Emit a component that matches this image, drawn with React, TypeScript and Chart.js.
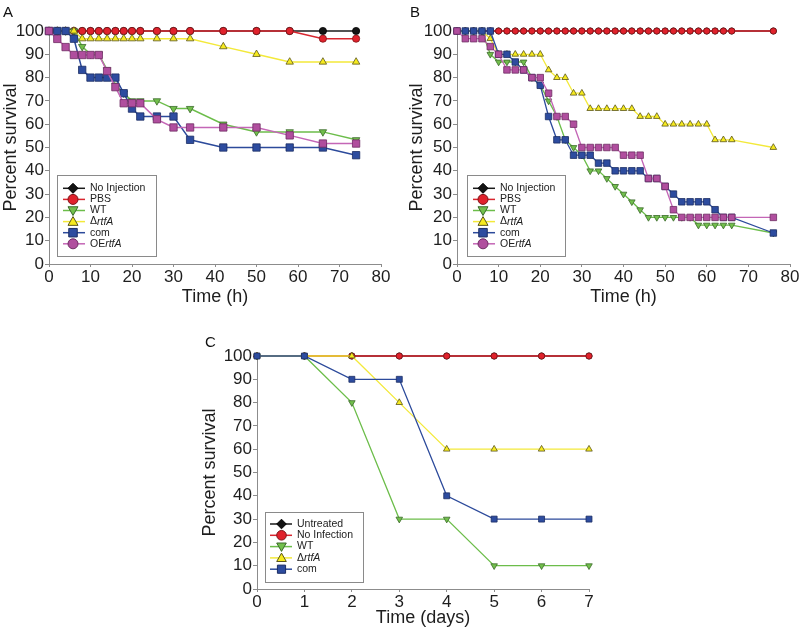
import React, { useEffect, useRef } from 'react';
import { Chart, registerables } from 'chart.js';
Chart.register(...registerables);

const FONT = "'Liberation Sans', Arial, Helvetica, sans-serif";

// ---------------- DATA ----------------
// Panel A (hours)
const timeA = [0, 2, 4, 6, 8, 10, 12, 14, 16, 18, 20, 22, 26, 30, 34, 42, 50, 58, 66, 74];
const noInjA = [100, 100, 100, 100, 100, 100, 100, 100, 100, 100, 100, 100, 100, 100, 100, 100, 100, 100, 100, 100];
const pbsA = [100, 100, 100, 100, 100, 100, 100, 100, 100, 100, 100, 100, 100, 100, 100, 100, 100, 100, 96.7, 96.7];
const wtA = [100, 100, 100, 100, 93.3, 90, 90, 83.3, 76.7, 73.3, 70, 70, 70, 66.7, 66.7, 60, 56.7, 56.7, 56.7, 53.3];
const deltaA = [100, 100, 100, 100, 96.7, 96.7, 96.7, 96.7, 96.7, 96.7, 96.7, 96.7, 96.7, 96.7, 96.7, 93.3, 90, 86.7, 86.7, 86.7];
const comA = [100, 100, 100, 96.7, 83.3, 80, 80, 80, 80, 73.3, 66.7, 63.3, 63.3, 63.3, 53.3, 50, 50, 50, 50, 46.7];
const oeA = [100, 96.6, 93.1, 89.7, 89.7, 89.7, 89.7, 82.8, 75.9, 69.0, 69.0, 69.0, 62.1, 58.6, 58.6, 58.6, 58.6, 55.2, 51.7, 51.7];

// Panel B (hours)
const timeB = [0, 2, 4, 6, 8, 10, 12, 14, 16, 18, 20, 22, 24, 26, 28, 30, 32, 34, 36, 38, 40, 42, 44, 46, 48, 50, 52, 54, 56, 58, 60, 62, 64, 66, 76];
const noInjB = [100, 100, 100, 100, 100, 100, 100, 100, 100, 100, 100, 100, 100, 100, 100, 100, 100, 100, 100, 100, 100, 100, 100, 100, 100, 100, 100, 100, 100, 100, 100, 100, 100, 100, 100];
const pbsB = [100, 100, 100, 100, 100, 100, 100, 100, 100, 100, 100, 100, 100, 100, 100, 100, 100, 100, 100, 100, 100, 100, 100, 100, 100, 100, 100, 100, 100, 100, 100, 100, 100, 100, 100];
const wtB = [100, 100, 100, 100, 90, 86.7, 86.7, 86.7, 86.7, 80, 76.7, 70, 63.3, 53.3, 50, 46.7, 40, 40, 36.7, 33.3, 30, 26.7, 23.3, 20, 20, 20, 20, 20, 20, 16.7, 16.7, 16.7, 16.7, 16.7, 13.3];
const deltaB = [100, 100, 100, 100, 96.7, 90, 90, 90, 90, 90, 90, 83.3, 80, 80, 73.3, 73.3, 66.7, 66.7, 66.7, 66.7, 66.7, 66.7, 63.3, 63.3, 63.3, 60, 60, 60, 60, 60, 60, 53.3, 53.3, 53.3, 50];
const comB = [100, 100, 100, 100, 100, 90, 90, 86.7, 83.3, 80, 76.7, 63.3, 53.3, 53.3, 46.7, 46.7, 46.7, 43.3, 43.3, 40, 40, 40, 40, 36.7, 36.7, 33.3, 30, 26.7, 26.7, 26.7, 26.7, 23.3, 20, 20, 13.3];
const oeB = [100, 96.7, 96.7, 96.7, 93.3, 90, 83.3, 83.3, 83.3, 80, 80, 73.3, 63.3, 63.3, 60, 50, 50, 50, 50, 50, 46.7, 46.7, 46.7, 36.7, 36.7, 33.3, 23.3, 20, 20, 20, 20, 20, 20, 20, 20];

// Panel C (days)
const timeC = [0, 1, 2, 3, 4, 5, 6, 7];
const untreatedC = [100, 100, 100, 100, 100, 100, 100, 100];
const noInfC = [100, 100, 100, 100, 100, 100, 100, 100];
const wtC = [100, 100, 80, 30, 30, 10, 10, 10];
const deltaC = [100, 100, 100, 80, 60, 60, 60, 60];
const comC = [100, 100, 90, 90, 40, 30, 30, 30];

// Labels (text between * is italic)
const namesAB = ['No Injection', 'PBS', 'WT', 'Δ*rtfA*', 'com', 'OE*rtfA*'];
const namesC = ['Untreated', 'No Infection', 'WT', 'Δ*rtfA*', 'com'];
const yTitle = 'Percent survival';
const xTitleAB = 'Time (h)';
const xTitleC = 'Time (days)';

// ---------------- STYLES ----------------
type Col = { line: string; fill: string; border: string };
const BLACK: Col = { line: '#1a1a1a', fill: '#141414', border: '#000000' };
const RED: Col = { line: '#d8262f', fill: '#e0222c', border: '#7d1418' };
const GREEN: Col = { line: '#6cbd4a', fill: '#72bf4c', border: '#3b6a2b' };
const YELLOW: Col = { line: '#f3e93a', fill: '#f6ea1e', border: '#5b561b' };
const BLUE: Col = { line: '#2c4a9b', fill: '#2d4c9f', border: '#1c2d63' };
const MAG: Col = { line: '#c466b6', fill: '#b04e9e', border: '#6e2c63' };

type Shape = 'circle' | 'rect' | 'triangle' | 'triangleDown' | 'diamond';
type Ser = { name: string; values: number[]; col: Col; style: Shape; legendStyle?: Shape };

type Spec = {
  left: number; top: number; width: number; height: number;
  area: { left: number; top: number; right: number; bottom: number };
  xMax: number; xStep: number; xTitle: string;
  xTitlePad: number; yTitlePad: number;
  letter: string; letterX: number; letterY: number;
  times: number[]; series: Ser[];
  sizes: Record<Shape, number>;
  lineWidth: number;
  legend: { dx: number; dyBottom: number; w: number; h: number; row0: number; rowStep: number; line0: number; line1: number; markX: number; markR: number; textX: number; font: number };
};

function drawMarker(ctx: CanvasRenderingContext2D, style: Shape, x: number, y: number, r: number, fill: string, stroke: string) {
  ctx.save();
  ctx.beginPath();
  if (style === 'circle') {
    ctx.arc(x, y, r, 0, Math.PI * 2);
  } else if (style === 'rect') {
    const s = r * 0.85;
    ctx.rect(x - s, y - s, 2 * s, 2 * s);
  } else if (style === 'diamond') {
    ctx.moveTo(x, y - r); ctx.lineTo(x + r, y); ctx.lineTo(x, y + r); ctx.lineTo(x - r, y); ctx.closePath();
  } else if (style === 'triangle') {
    ctx.moveTo(x, y - r); ctx.lineTo(x + r * 1.0, y + r * 0.75); ctx.lineTo(x - r * 1.0, y + r * 0.75); ctx.closePath();
  } else {
    ctx.moveTo(x, y + r); ctx.lineTo(x + r * 1.0, y - r * 0.75); ctx.lineTo(x - r * 1.0, y - r * 0.75); ctx.closePath();
  }
  ctx.fillStyle = fill;
  ctx.fill();
  ctx.lineWidth = 1;
  ctx.strokeStyle = stroke;
  ctx.stroke();
  ctx.restore();
}

function chartStyle(s: Shape): string {
  if (s === 'circle') return 'circle';
  if (s === 'rect') return 'rect';
  if (s === 'diamond') return 'rectRot';
  return 'triangle';
}

function buildChart(canvas: HTMLCanvasElement, sp: Spec) {
  const A = sp.area;
  const datasets = sp.series.map((s) => ({
    label: s.name,
    data: sp.times.map((t, i) => ({ x: t, y: s.values[i] })),
    borderColor: s.col.line,
    backgroundColor: s.col.fill,
    borderWidth: sp.lineWidth,
    pointStyle: chartStyle(s.style),
    pointRotation: s.style === 'triangleDown' ? 180 : 0,
    pointRadius: sp.sizes[s.style],
    pointHoverRadius: sp.sizes[s.style],
    pointBackgroundColor: s.col.fill,
    pointBorderColor: s.col.border,
    pointBorderWidth: 0.8,
    tension: 0,
    fill: false,
    clip: false as any,
  }));
  // Chart.js draws dataset 0 on top: reverse so the last listed series is on top
  datasets.reverse();

  const overlay = {
    id: 'overlay' + sp.letter,
    afterDraw(chart: any) {
      const ctx: CanvasRenderingContext2D = chart.ctx;
      const ca = chart.chartArea;
      ctx.save();
      ctx.font = `15px ${FONT}`;
      ctx.fillStyle = '#111';
      ctx.textAlign = 'left';
      ctx.textBaseline = 'alphabetic';
      ctx.fillText(sp.letter, sp.letterX, sp.letterY);

      const L = sp.legend;
      const bx = Math.round(ca.left + L.dx);
      const by = Math.round(ca.bottom - L.dyBottom - L.h);
      ctx.fillStyle = '#ffffff';
      ctx.fillRect(bx, by, L.w, L.h);
      ctx.strokeStyle = '#8a8a8a';
      ctx.lineWidth = 1;
      ctx.strokeRect(bx + 0.5, by + 0.5, L.w, L.h);
      sp.series.forEach((s, i) => {
        const y = by + L.row0 + i * L.rowStep;
        ctx.beginPath();
        ctx.moveTo(bx + L.line0, y);
        ctx.lineTo(bx + L.line1, y);
        ctx.strokeStyle = s.col.line;
        ctx.lineWidth = 1.5;
        ctx.stroke();
        drawMarker(ctx, s.legendStyle ?? s.style, bx + L.markX, y, L.markR, s.col.fill, s.col.border);
        let x = bx + L.textX;
        ctx.textBaseline = 'middle';
        ctx.fillStyle = '#222';
        s.name.split('*').forEach((part, k) => {
          if (!part) return;
          ctx.font = `${k % 2 === 1 ? 'italic ' : ''}${L.font}px ${FONT}`;
          ctx.fillText(part, x, y);
          x += ctx.measureText(part).width;
        });
      });
      ctx.restore();
    },
  };

  const axisColor = '#8c8c8c';
  return new Chart(canvas, {
    type: 'line',
    data: { datasets: datasets as any },
    options: {
      responsive: false,
      animation: false,
      events: [],
      layout: { padding: { left: 0, top: A.top, right: sp.width - A.right, bottom: 0 } },
      plugins: { legend: { display: false }, tooltip: { enabled: false } },
      scales: {
        x: {
          type: 'linear',
          min: 0,
          max: sp.xMax,
          afterFit: (s: any) => { s.height = sp.height - A.bottom; },
          ticks: { stepSize: sp.xStep, autoSkip: false, maxRotation: 0, padding: 0, color: '#1e1e1e', font: { family: FONT, size: 17 } },
          grid: { drawOnChartArea: false, drawTicks: true, tickLength: 3, color: axisColor, lineWidth: 1 },
          border: { display: true, color: axisColor, width: 1 },
          title: { display: true, text: sp.xTitle, color: '#1e1e1e', font: { family: FONT, size: 18 }, padding: { top: 0, bottom: sp.xTitlePad } },
        },
        y: {
          type: 'linear',
          min: 0,
          max: 100,
          afterFit: (s: any) => { s.width = A.left; },
          ticks: { stepSize: 10, autoSkip: false, padding: 1, color: '#1e1e1e', font: { family: FONT, size: 17 } },
          grid: { drawOnChartArea: false, drawTicks: true, tickLength: 4, color: axisColor, lineWidth: 1 },
          border: { display: true, color: axisColor, width: 1 },
          title: { display: true, text: yTitle, color: '#1e1e1e', font: { family: FONT, size: 18 }, padding: { top: sp.yTitlePad, bottom: 0 } },
        },
      },
    },
    plugins: [overlay],
  } as any);
}

const seriesA: Ser[] = [
  { name: namesAB[0], values: noInjA, col: BLACK, style: 'circle', legendStyle: 'diamond' },
  { name: namesAB[1], values: pbsA, col: RED, style: 'circle' },
  { name: namesAB[2], values: wtA, col: GREEN, style: 'triangleDown' },
  { name: namesAB[3], values: deltaA, col: YELLOW, style: 'triangle' },
  { name: namesAB[4], values: comA, col: BLUE, style: 'rect' },
  { name: namesAB[5], values: oeA, col: MAG, style: 'rect', legendStyle: 'circle' },
];
const seriesB: Ser[] = [
  { name: namesAB[0], values: noInjB, col: BLACK, style: 'circle', legendStyle: 'diamond' },
  { name: namesAB[1], values: pbsB, col: RED, style: 'circle' },
  { name: namesAB[2], values: wtB, col: GREEN, style: 'triangleDown' },
  { name: namesAB[3], values: deltaB, col: YELLOW, style: 'triangle' },
  { name: namesAB[4], values: comB, col: BLUE, style: 'rect' },
  { name: namesAB[5], values: oeB, col: MAG, style: 'rect', legendStyle: 'circle' },
];
const seriesC: Ser[] = [
  { name: namesC[0], values: untreatedC, col: BLACK, style: 'circle', legendStyle: 'diamond' },
  { name: namesC[1], values: noInfC, col: RED, style: 'circle' },
  { name: namesC[2], values: wtC, col: GREEN, style: 'triangleDown' },
  { name: namesC[3], values: deltaC, col: YELLOW, style: 'triangle' },
  { name: namesC[4], values: comC, col: BLUE, style: 'rect' },
];

const legendAB = { dx: 8, dyBottom: 8, w: 99, h: 81, row0: 13.3, rowStep: 11.1, line0: 6, line1: 28, markX: 16, markR: 5, textX: 33, font: 10.5 };

const specA: Spec = {
  left: 0, top: 0, width: 400, height: 320,
  area: { left: 49, top: 31, right: 381, bottom: 264 },
  xMax: 80, xStep: 10, xTitle: xTitleAB, xTitlePad: 12.6, yTitlePad: 0,
  letter: 'A', letterX: 3, letterY: 17,
  times: timeA, series: seriesA,
  sizes: { circle: 3.6, rect: 5.2, triangle: 4.3, triangleDown: 4.3, diamond: 4 },
  lineWidth: 1.5,
  legend: legendAB,
};
const specB: Spec = {
  left: 400, top: 0, width: 400, height: 320,
  area: { left: 57, top: 31, right: 390, bottom: 264 },
  xMax: 80, xStep: 10, xTitle: xTitleAB, xTitlePad: 12.6, yTitlePad: 6.2,
  letter: 'B', letterX: 10, letterY: 17,
  times: timeB, series: seriesB,
  sizes: { circle: 3.1, rect: 4.6, triangle: 3.8, triangleDown: 3.8, diamond: 3.5 },
  lineWidth: 1.3,
  legend: { ...legendAB, dx: 9.7, w: 98 },
};
const specC: Spec = {
  left: 190, top: 320, width: 440, height: 312,
  area: { left: 67, top: 36, right: 399, bottom: 269 },
  xMax: 7, xStep: 1, xTitle: xTitleC, xTitlePad: 3.6, yTitlePad: 9.2,
  letter: 'C', letterX: 15, letterY: 27,
  times: timeC, series: seriesC,
  sizes: { circle: 3.1, rect: 4.2, triangle: 3.8, triangleDown: 3.8, diamond: 3.5 },
  lineWidth: 1.3,
  legend: { dx: 8, dyBottom: 7.3, w: 98, h: 70, row0: 12, rowStep: 11.3, line0: 5, line1: 27, markX: 16.5, markR: 4.8, textX: 32, font: 10.5 },
};

const specs = [specA, specB, specC];

export default function App() {
  const refs = [useRef<HTMLCanvasElement>(null), useRef<HTMLCanvasElement>(null), useRef<HTMLCanvasElement>(null)];
  useEffect(() => {
    const charts = specs.map((sp, i) => buildChart(refs[i].current as HTMLCanvasElement, sp));
    return () => charts.forEach((c) => c.destroy());
  }, []);
  return (
    <div style={{ position: 'absolute', left: 0, top: 0, width: 800, height: 632, background: '#ffffff', overflow: 'hidden' }}>
      {specs.map((sp, i) => (
        <canvas
          key={sp.letter}
          ref={refs[i]}
          width={sp.width}
          height={sp.height}
          style={{ position: 'absolute', left: sp.left, top: sp.top, width: sp.width, height: sp.height }}
        />
      ))}
    </div>
  );
}
